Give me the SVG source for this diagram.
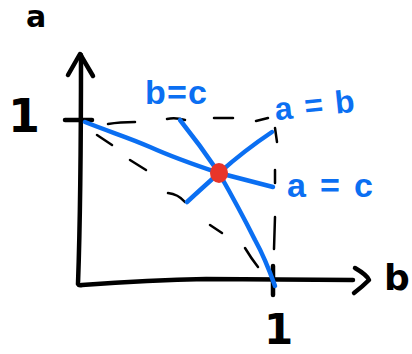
<svg xmlns="http://www.w3.org/2000/svg" width="412" height="354" viewBox="0 0 412 354">
<style>
.ax{fill:none;stroke:#000;stroke-width:4.5;stroke-linecap:round;stroke-linejoin:round}
.dash{fill:none;stroke:#000;stroke-width:2.5;stroke-linecap:round}
.bl{fill:none;stroke:#0b6ff2;stroke-width:4.5;stroke-linecap:round;stroke-linejoin:round}
.lab{font-family:"Liberation Sans",Arial,sans-serif;fill:#0b6ff2;font-weight:bold}
.blk{font-family:"DejaVu Sans","Liberation Sans",sans-serif;fill:#000;font-weight:bold}
</style>
<rect width="412" height="354" fill="#fff"/>
<g id="axes">
<path class="ax" d="M81,55 Q81,200 78,284 Q79,286 82,285 Q150,280 206,279 L353,280"/>
<path class="ax" d="M68,75 L80,54 L93,76"/>
<path class="ax" d="M355,268 Q367,275 369,280 Q362,287 354,293"/>
<path class="ax" d="M65,120 L92,120"/>
<path class="ax" d="M273,266 L273,295"/>
</g>
<g id="dashes">
<path class="dash" d="M108,124 Q120,122 135,122"/>
<path class="dash" d="M167,119 Q175,117 185,120"/>
<path class="dash" d="M214,118 L233,118"/>
<path class="dash" d="M256,121 L268,118"/>
<path class="dash" d="M275,128 L277,142"/>
<path class="dash" d="M275,170 L275,183"/>
<path class="dash" d="M275,217 L274,249"/>
<path class="dash" d="M97,135 L112,145"/>
<path class="dash" d="M130,160 L146,170"/>
<path class="dash" d="M168,193 Q178,194 185,202"/>
<path class="dash" d="M210,225 L222,233"/>
<path class="dash" d="M245,248 Q251,258 258,267"/>
</g>
<g id="connectors">
<path class="bl" d="M85,122 C110,132 130,138 150,147 C170,156 195,165 219,173"/>
<path class="bl" d="M180,120 Q200,145 219,173 Q240,210 255,240 Q265,258 275,286"/>
<path class="bl" d="M187,202 Q200,190 219,173 Q245,150 272,132"/>
<path class="bl" d="M219,173 L273,187"/>
</g>
<g id="point">
<ellipse cx="219" cy="173" rx="9" ry="10" fill="#e8352a"/>
</g>
<g id="labels">
<text class="blk" x="26" y="27" font-size="30">a</text>
<text class="blk" x="8" y="132" font-size="46">1</text>
<text class="blk" x="264" y="344" font-size="42">1</text>
<text class="blk" x="384" y="290" font-size="36">b</text>
<text class="lab" x="145" y="104" font-size="34" textLength="62" lengthAdjust="spacing">b=c</text>
<text class="lab" x="275" y="116" font-size="32" textLength="80" lengthAdjust="spacing" transform="rotate(-6 315 110)">a=b</text>
<text class="lab" x="287" y="197" font-size="34" textLength="86" lengthAdjust="spacing">a=c</text>
</g>
</svg>
